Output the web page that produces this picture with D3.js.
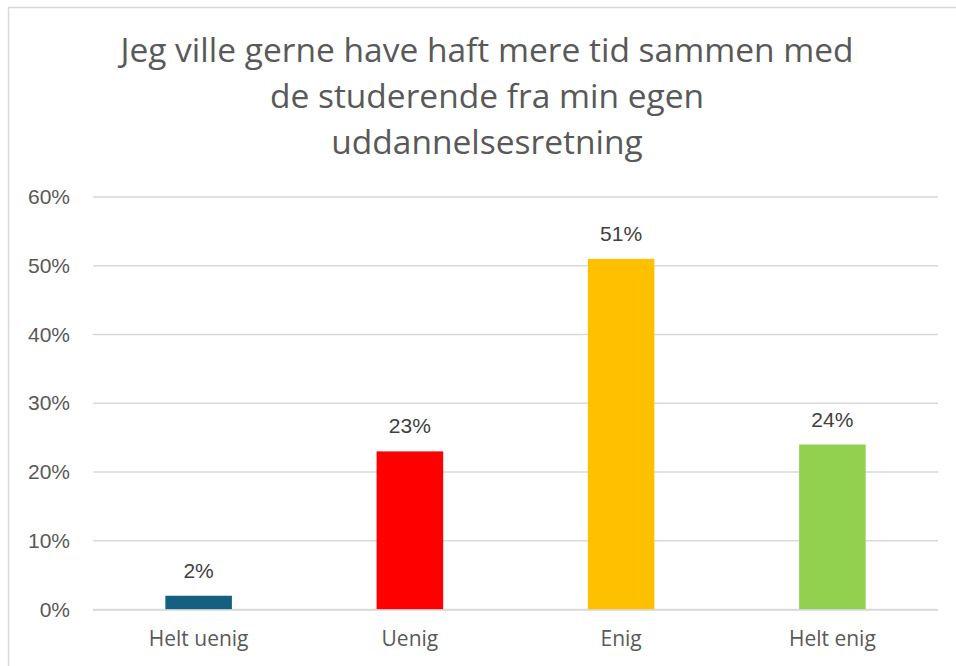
<!DOCTYPE html>
<html>
<head>
<meta charset="utf-8">
<script src="https://cdn.jsdelivr.net/npm/d3@7"></script>
<style>
  body { margin: 0; background: #fff; }
  svg { display: block; }
</style>
</head>
<body>
<div id="chart"></div>
<script>
// data
const categories = ["Helt uenig", "Uenig", "Enig", "Helt enig"];
const values = [0.02, 0.23, 0.51, 0.24];
const colors = ["#156082", "#FF0000", "#FFC000", "#92D050"];
const yTicks = [0, 0.1, 0.2, 0.3, 0.4, 0.5, 0.6];
const titleLines = [
  "Jeg ville gerne have haft mere tid sammen med",
  "de studerende fra min egen",
  "uddannelsesretning"
];

const width = 956;
const height = 666;
const margin = { top: 197, right: 18, bottom: 56, left: 93 };

const svg = d3.select("#chart")
  .append("svg")
  .attr("width", width)
  .attr("height", height);

// chart border (only top and left visible)
svg.append("line")
  .attr("x1", 8).attr("x2", width).attr("y1", 7.5).attr("y2", 7.5)
  .attr("stroke", "#d9d9d9").attr("stroke-width", 1.5);
svg.append("line")
  .attr("x1", 8.5).attr("x2", 8.5).attr("y1", 7).attr("y2", height)
  .attr("stroke", "#d9d9d9").attr("stroke-width", 1.5);

// title
svg.append("g")
  .selectAll("text")
  .data(titleLines)
  .enter().append("text")
  .attr("x", 487)
  .attr("y", (d, i) => 62 + i * 46)
  .attr("text-anchor", "middle")
  .attr("font-family", "'Open Sans', 'Noto Sans', sans-serif")
  .attr("font-size", 33.5)
  .attr("fill", "#595959")
  .text(d => d);

const x = d3.scaleBand()
  .domain(categories)
  .range([margin.left, width - margin.right])
  .paddingInner(0.685)
  .paddingOuter(0.3425);

const y = d3.scaleLinear()
  .domain([0, 0.6])
  .range([height - margin.bottom - 0.5, margin.top]);

// gridlines
svg.append("g")
  .selectAll("line")
  .data(yTicks)
  .enter().append("line")
  .attr("x1", margin.left)
  .attr("x2", width - margin.right)
  .attr("y1", d => y(d))
  .attr("y2", d => y(d))
  .attr("stroke", "#d9d9d9")
  .attr("stroke-width", 1.5);

// y axis labels
const yAxis = d3.axisLeft(y)
  .tickValues(yTicks)
  .tickFormat(d3.format(".0%"))
  .tickSize(0)
  .tickPadding(23);

svg.append("g")
  .attr("transform", `translate(${margin.left},0)`)
  .call(yAxis)
  .call(g => g.select(".domain").remove())
  .selectAll("text")
  .attr("font-family", "'Liberation Sans', Arial, sans-serif")
  .attr("font-size", 21)
  .attr("fill", "#595959");

// bars
svg.append("g")
  .selectAll("rect")
  .data(values)
  .enter().append("rect")
  .attr("x", (d, i) => x(categories[i]))
  .attr("width", x.bandwidth())
  .attr("y", d => y(d))
  .attr("height", d => y(0) - y(d))
  .attr("fill", (d, i) => colors[i]);

// baseline on top of bars
svg.append("line")
  .attr("x1", margin.left)
  .attr("x2", width - margin.right)
  .attr("y1", y(0) + 0.5)
  .attr("y2", y(0) + 0.5)
  .attr("stroke", "#d9d9d9")
  .attr("stroke-width", 1.5);

// data labels
svg.append("g")
  .selectAll("text")
  .data(values)
  .enter().append("text")
  .attr("x", (d, i) => x(categories[i]) + x.bandwidth() / 2)
  .attr("y", d => y(d) - 18)
  .attr("text-anchor", "middle")
  .attr("font-family", "'Liberation Sans', Arial, sans-serif")
  .attr("font-size", 21)
  .attr("fill", "#404040")
  .text(d => d3.format(".0%")(d));

// x axis labels
const xAxis = d3.axisBottom(x)
  .tickSize(0)
  .tickPadding(22);

svg.append("g")
  .attr("transform", `translate(0,${y(0)})`)
  .call(xAxis)
  .call(g => g.select(".domain").remove())
  .selectAll("text")
  .attr("font-family", "'Open Sans', 'Noto Sans', sans-serif")
  .attr("font-size", 21)
  .attr("fill", "#595959");
</script>
</body>
</html>
